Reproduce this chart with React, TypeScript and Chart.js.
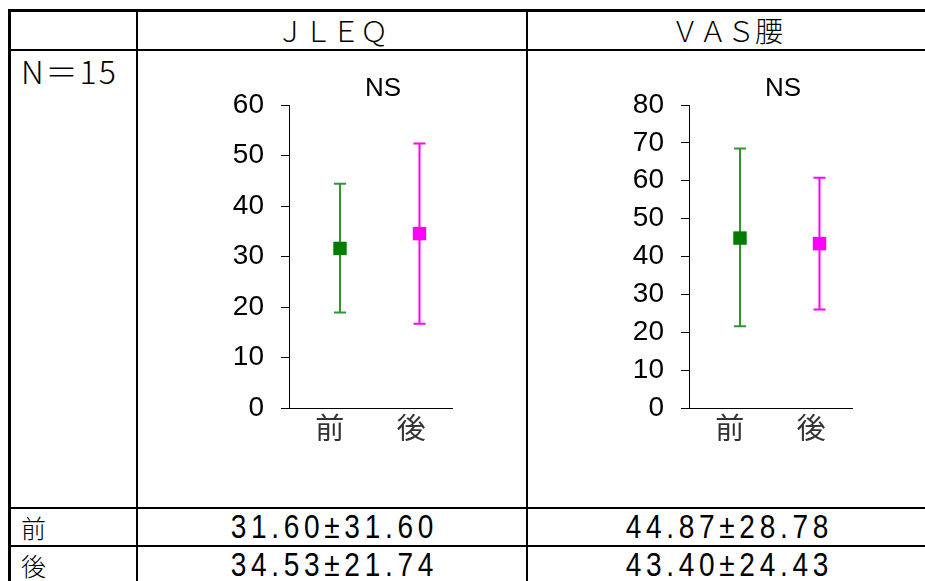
import React, { useEffect, useRef } from "react";
import { Chart, registerables } from "chart.js";

Chart.register(...registerables);

// ---- data ----
const categories = ["前", "後"];
const positions = [1, 2];

const jleqMean = [31.6, 34.53];
const jleqUpper = [44.4, 52.4];
const jleqLower = [18.9, 16.7];
const jleqMax = 60;

const vasMean = [44.87, 43.4];
const vasUpper = [68.5, 60.8];
const vasLower = [21.6, 26.0];
const vasMax = 80;

const headerLabels = ["ＪＬＥＱ", "ＶＡＳ腰"];
const sampleLabel = "N＝15";
const significance = ["NS", "NS"];
const rowLabels = ["前", "後"];
const jleqText = ["31.60±31.60", "34.53±21.74"];
const vasText = ["44.87±28.78", "43.40±24.43"];

// ---- styles ----
const markerColors = ["#007C00", "#FF00FF"];
const barColors = ["#2F962F", "#FF00FF"];
const CJK = '"Noto Sans CJK JP", "Noto Sans CJK SC", sans-serif';
const SANS = '"Liberation Sans", Arial, sans-serif';

const errorBarPlugin = {
  id: "errorBars",
  beforeDatasetsDraw(chart: any) {
    const { ctx } = chart;
    const xs = chart.scales.xv;
    const ys = chart.scales.y;
    const ds = chart.data.datasets[0];
    ds.data.forEach((p: any, i: number) => {
      const x = xs.getPixelForValue(p.x);
      const yt = ys.getPixelForValue(p.hi);
      const yb = ys.getPixelForValue(p.lo);
      ctx.save();
      ctx.strokeStyle = barColors[i];
      ctx.lineWidth = 2;
      ctx.beginPath();
      ctx.moveTo(x, yt);
      ctx.lineTo(x, yb);
      ctx.moveTo(x - 6, yt);
      ctx.lineTo(x + 6, yt);
      ctx.moveTo(x - 6, yb);
      ctx.lineTo(x + 6, yb);
      ctx.stroke();
      ctx.restore();
    });
  },
};

function ErrChart(props: { left: number; top: number; mean: number[]; upper: number[]; lower: number[]; ymax: number }) {
  const ref = useRef<HTMLCanvasElement | null>(null);
  useEffect(() => {
    if (!ref.current) return;
    const points = positions.map((x, i) => ({ x, y: props.mean[i], hi: props.upper[i], lo: props.lower[i] }));
    const chart = new Chart(ref.current, {
      type: "scatter",
      data: {
        labels: categories,
        datasets: [
          {
            data: points as any,
            xAxisID: "xv",
            yAxisID: "y",
            pointStyle: "rect",
            pointRadius: 9.5,
            pointHoverRadius: 9.5,
            pointBackgroundColor: markerColors,
            pointBorderColor: markerColors,
            pointBorderWidth: 0,
            showLine: false,
          } as any,
        ],
      },
      options: {
        animation: false,
        responsive: false,
        devicePixelRatio: 1,
        events: [],
        layout: { padding: { top: 45, right: 18, left: 0, bottom: 0 } },
        plugins: { legend: { display: false }, tooltip: { enabled: false } },
        scales: {
          x: {
            type: "category",
            position: "bottom",
            offset: true,
            grid: { display: false },
            border: { display: true, color: "#000", width: 1 },
            ticks: { font: { family: CJK, size: 29 }, color: "#333", padding: -5, maxRotation: 0, autoSkip: false },
            afterFit(s: any) {
              s.height = 52;
            },
          } as any,
          xv: { type: "linear", display: false, min: 0.3585, max: 2.409 } as any,
          y: {
            type: "linear",
            min: 0,
            max: props.ymax,
            ticks: { stepSize: 10, font: { family: SANS, size: 28 }, color: "#000", padding: 17 },
            grid: { drawOnChartArea: false, drawTicks: true, tickLength: 8, color: "#000" },
            border: { color: "#000", width: 1 },
            afterFit(s: any) {
              s.width = 89;
            },
          } as any,
        },
      },
      plugins: [errorBarPlugin],
    });
    return () => chart.destroy();
  }, []);
  return (
    <canvas
      ref={ref}
      width={270}
      height={400}
      style={{ position: "absolute", left: props.left, top: props.top, width: 270, height: 400 }}
    />
  );
}

function Txt(props: { x: number; y: number; w: number; h: number; align?: any; style?: any; children: any }) {
  return (
    <div
      style={{
        position: "absolute",
        left: props.x,
        top: props.y,
        width: props.w,
        height: props.h,
        lineHeight: props.h + "px",
        textAlign: props.align || "center",
        whiteSpace: "nowrap",
        color: "#000",
        ...props.style,
      }}
    >
      {props.children}
    </div>
  );
}

function Line(props: { x: number; y: number; w: number; h: number }) {
  return <div style={{ position: "absolute", left: props.x, top: props.y, width: props.w, height: props.h, background: "#000" }} />;
}

export default function App() {
  const headStyle = { fontFamily: CJK, fontSize: 28, fontWeight: 300 };
  const valStyle = {
    fontFamily: SANS,
    fontSize: 33,
    letterSpacing: 5.5,
    textIndent: 5.5,
    transform: "scaleX(0.85)",
    transformOrigin: "50% 50%",
  };
  return (
    <div style={{ position: "fixed", left: 0, top: 0, width: 925, height: 581, overflow: "hidden", background: "#fff" }}>
      {/* table lines */}
      <Line x={8} y={9} w={917} h={3} />
      <Line x={8} y={9} w={3} h={572} />
      <Line x={11} y={49} w={914} h={2} />
      <Line x={11} y={507} w={914} h={2} />
      <Line x={11} y={545} w={914} h={2} />
      <Line x={136} y={12} w={2} h={569} />
      <Line x={526} y={12} w={2} h={569} />

      {/* header */}
      <Txt x={138} y={12} w={388} h={37} style={headStyle}>{headerLabels[0]}</Txt>
      <Txt x={528} y={12} w={398} h={37} style={headStyle}>{headerLabels[1]}</Txt>
      <Txt x={21} y={51} w={114} h={38} align="left" style={{ fontFamily: CJK, fontSize: 32, letterSpacing: 2, fontWeight: 300 }}>{sampleLabel}</Txt>

      {/* charts */}
      <ErrChart left={200} top={60} mean={jleqMean} upper={jleqUpper} lower={jleqLower} ymax={jleqMax} />
      <ErrChart left={600} top={60} mean={vasMean} upper={vasUpper} lower={vasLower} ymax={vasMax} />
      <Txt x={343} y={71} w={80} h={32} style={{ fontFamily: SANS, fontSize: 26 }}>{significance[0]}</Txt>
      <Txt x={743} y={71} w={80} h={32} style={{ fontFamily: SANS, fontSize: 26 }}>{significance[1]}</Txt>

      {/* value rows */}
      <Txt x={21} y={509} w={40} h={36} align="left" style={{ ...headStyle, fontSize: 25 }}>{rowLabels[0]}</Txt>
      <Txt x={21} y={547} w={40} h={36} align="left" style={{ ...headStyle, fontSize: 25 }}>{rowLabels[1]}</Txt>
      <Txt x={138} y={509} w={388} h={36} style={valStyle}>{jleqText[0]}</Txt>
      <Txt x={138} y={547} w={388} h={36} style={valStyle}>{jleqText[1]}</Txt>
      <Txt x={528} y={509} w={398} h={36} style={valStyle}>{vasText[0]}</Txt>
      <Txt x={528} y={547} w={398} h={36} style={valStyle}>{vasText[1]}</Txt>
    </div>
  );
}
